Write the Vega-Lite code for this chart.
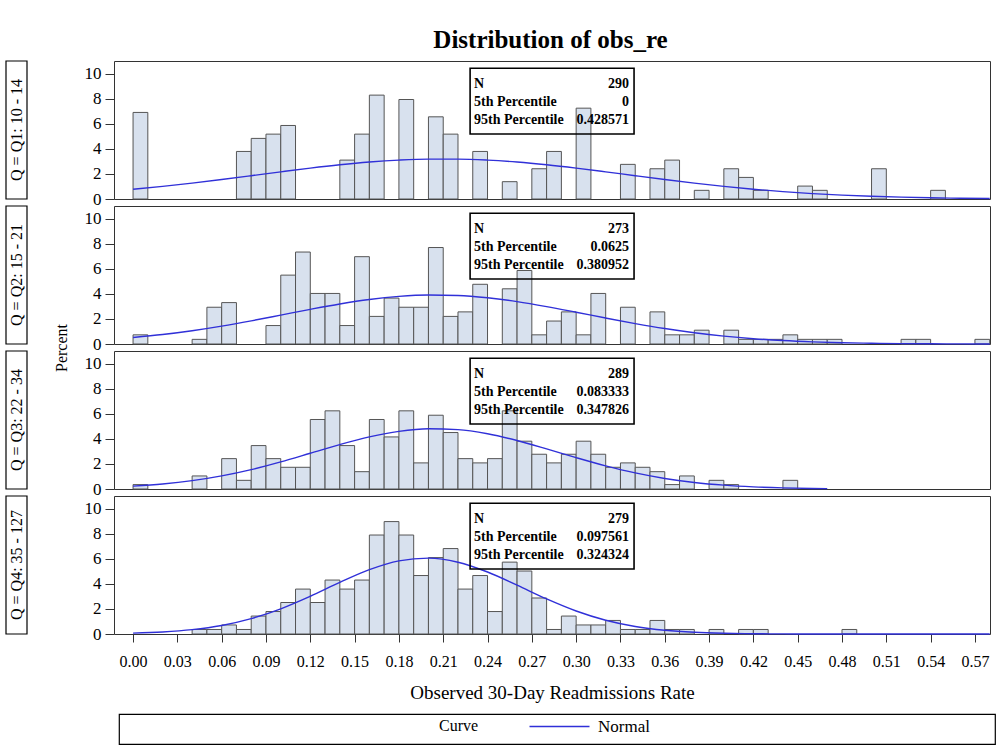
{
  "$schema": "https://vega.github.io/schema/vega-lite/v6.json",
  "padding": {"left": 5, "top": 28, "right": 10, "bottom": 5},
  "background": "white",
  "title": {"text": "Distribution of obs_re", "font": "Liberation Serif", "fontSize": 25, "fontWeight": "bold", "color": "black", "anchor": "middle", "dx": 50, "offset": 7},
  "config": {
    "font": "Liberation Serif",
    "view": {"stroke": "#333", "strokeWidth": 1},
    "axis": {"labelFont": "Liberation Serif", "titleFont": "Liberation Serif", "labelColor": "black", "titleColor": "black", "tickColor": "#333", "domain": false, "grid": false, "titleFontWeight": "normal"}
  },
  "datasets": {
    "bars": [
      {"q":"Q1","lo":0.00,"hi":0.01,"pct":6.90},{"q":"Q1","lo":0.07,"hi":0.08,"pct":3.79},{"q":"Q1","lo":0.08,"hi":0.09,"pct":4.83},{"q":"Q1","lo":0.09,"hi":0.10,"pct":5.17},{"q":"Q1","lo":0.10,"hi":0.11,"pct":5.86},{"q":"Q1","lo":0.14,"hi":0.15,"pct":3.10},{"q":"Q1","lo":0.15,"hi":0.16,"pct":5.17},{"q":"Q1","lo":0.16,"hi":0.17,"pct":8.28},{"q":"Q1","lo":0.18,"hi":0.19,"pct":7.93},{"q":"Q1","lo":0.20,"hi":0.21,"pct":6.55},{"q":"Q1","lo":0.21,"hi":0.22,"pct":5.17},{"q":"Q1","lo":0.23,"hi":0.24,"pct":3.79},{"q":"Q1","lo":0.25,"hi":0.26,"pct":1.38},{"q":"Q1","lo":0.27,"hi":0.28,"pct":2.41},{"q":"Q1","lo":0.28,"hi":0.29,"pct":3.79},{"q":"Q1","lo":0.30,"hi":0.31,"pct":7.24},{"q":"Q1","lo":0.33,"hi":0.34,"pct":2.76},{"q":"Q1","lo":0.35,"hi":0.36,"pct":2.41},{"q":"Q1","lo":0.36,"hi":0.37,"pct":3.10},{"q":"Q1","lo":0.38,"hi":0.39,"pct":0.69},{"q":"Q1","lo":0.40,"hi":0.41,"pct":2.41},{"q":"Q1","lo":0.41,"hi":0.42,"pct":1.72},{"q":"Q1","lo":0.42,"hi":0.43,"pct":0.69},{"q":"Q1","lo":0.45,"hi":0.46,"pct":1.03},{"q":"Q1","lo":0.46,"hi":0.47,"pct":0.69},{"q":"Q1","lo":0.50,"hi":0.51,"pct":2.41},{"q":"Q1","lo":0.54,"hi":0.55,"pct":0.69},
      {"q":"Q2","lo":0.00,"hi":0.01,"pct":0.73},{"q":"Q2","lo":0.04,"hi":0.05,"pct":0.37},{"q":"Q2","lo":0.05,"hi":0.06,"pct":2.93},{"q":"Q2","lo":0.06,"hi":0.07,"pct":3.30},{"q":"Q2","lo":0.09,"hi":0.10,"pct":1.47},{"q":"Q2","lo":0.10,"hi":0.11,"pct":5.49},{"q":"Q2","lo":0.11,"hi":0.12,"pct":7.33},{"q":"Q2","lo":0.12,"hi":0.13,"pct":4.03},{"q":"Q2","lo":0.13,"hi":0.14,"pct":4.03},{"q":"Q2","lo":0.14,"hi":0.15,"pct":1.47},{"q":"Q2","lo":0.15,"hi":0.16,"pct":6.96},{"q":"Q2","lo":0.16,"hi":0.17,"pct":2.20},{"q":"Q2","lo":0.17,"hi":0.18,"pct":3.66},{"q":"Q2","lo":0.18,"hi":0.19,"pct":2.93},{"q":"Q2","lo":0.19,"hi":0.20,"pct":2.93},{"q":"Q2","lo":0.20,"hi":0.21,"pct":7.69},{"q":"Q2","lo":0.21,"hi":0.22,"pct":2.20},{"q":"Q2","lo":0.22,"hi":0.23,"pct":2.56},{"q":"Q2","lo":0.23,"hi":0.24,"pct":4.76},{"q":"Q2","lo":0.25,"hi":0.26,"pct":4.40},{"q":"Q2","lo":0.26,"hi":0.27,"pct":5.86},{"q":"Q2","lo":0.27,"hi":0.28,"pct":0.73},{"q":"Q2","lo":0.28,"hi":0.29,"pct":1.83},{"q":"Q2","lo":0.29,"hi":0.30,"pct":2.56},{"q":"Q2","lo":0.30,"hi":0.31,"pct":0.73},{"q":"Q2","lo":0.31,"hi":0.32,"pct":4.03},{"q":"Q2","lo":0.33,"hi":0.34,"pct":2.93},{"q":"Q2","lo":0.35,"hi":0.36,"pct":2.56},{"q":"Q2","lo":0.36,"hi":0.37,"pct":0.73},{"q":"Q2","lo":0.37,"hi":0.38,"pct":0.73},{"q":"Q2","lo":0.38,"hi":0.39,"pct":1.10},{"q":"Q2","lo":0.40,"hi":0.41,"pct":1.10},{"q":"Q2","lo":0.41,"hi":0.42,"pct":0.37},{"q":"Q2","lo":0.42,"hi":0.43,"pct":0.37},{"q":"Q2","lo":0.43,"hi":0.44,"pct":0.37},{"q":"Q2","lo":0.44,"hi":0.45,"pct":0.73},{"q":"Q2","lo":0.45,"hi":0.46,"pct":0.37},{"q":"Q2","lo":0.46,"hi":0.47,"pct":0.37},{"q":"Q2","lo":0.47,"hi":0.48,"pct":0.37},{"q":"Q2","lo":0.52,"hi":0.53,"pct":0.37},{"q":"Q2","lo":0.53,"hi":0.54,"pct":0.37},{"q":"Q2","lo":0.57,"hi":0.58,"pct":0.37},
      {"q":"Q3","lo":0.00,"hi":0.01,"pct":0.35},{"q":"Q3","lo":0.04,"hi":0.05,"pct":1.04},{"q":"Q3","lo":0.06,"hi":0.07,"pct":2.42},{"q":"Q3","lo":0.07,"hi":0.08,"pct":0.69},{"q":"Q3","lo":0.08,"hi":0.09,"pct":3.46},{"q":"Q3","lo":0.09,"hi":0.10,"pct":2.42},{"q":"Q3","lo":0.10,"hi":0.11,"pct":1.73},{"q":"Q3","lo":0.11,"hi":0.12,"pct":1.73},{"q":"Q3","lo":0.12,"hi":0.13,"pct":5.54},{"q":"Q3","lo":0.13,"hi":0.14,"pct":6.23},{"q":"Q3","lo":0.14,"hi":0.15,"pct":3.46},{"q":"Q3","lo":0.15,"hi":0.16,"pct":1.38},{"q":"Q3","lo":0.16,"hi":0.17,"pct":5.54},{"q":"Q3","lo":0.17,"hi":0.18,"pct":4.15},{"q":"Q3","lo":0.18,"hi":0.19,"pct":6.23},{"q":"Q3","lo":0.19,"hi":0.20,"pct":2.08},{"q":"Q3","lo":0.20,"hi":0.21,"pct":5.88},{"q":"Q3","lo":0.21,"hi":0.22,"pct":4.50},{"q":"Q3","lo":0.22,"hi":0.23,"pct":2.42},{"q":"Q3","lo":0.23,"hi":0.24,"pct":2.08},{"q":"Q3","lo":0.24,"hi":0.25,"pct":2.42},{"q":"Q3","lo":0.25,"hi":0.26,"pct":6.23},{"q":"Q3","lo":0.26,"hi":0.27,"pct":3.81},{"q":"Q3","lo":0.27,"hi":0.28,"pct":2.77},{"q":"Q3","lo":0.28,"hi":0.29,"pct":2.08},{"q":"Q3","lo":0.29,"hi":0.30,"pct":2.77},{"q":"Q3","lo":0.30,"hi":0.31,"pct":3.81},{"q":"Q3","lo":0.31,"hi":0.32,"pct":2.77},{"q":"Q3","lo":0.32,"hi":0.33,"pct":1.73},{"q":"Q3","lo":0.33,"hi":0.34,"pct":2.08},{"q":"Q3","lo":0.34,"hi":0.35,"pct":1.73},{"q":"Q3","lo":0.35,"hi":0.36,"pct":1.38},{"q":"Q3","lo":0.36,"hi":0.37,"pct":0.35},{"q":"Q3","lo":0.37,"hi":0.38,"pct":1.04},{"q":"Q3","lo":0.39,"hi":0.40,"pct":0.69},{"q":"Q3","lo":0.40,"hi":0.41,"pct":0.35},{"q":"Q3","lo":0.44,"hi":0.45,"pct":0.69},
      {"q":"Q4","lo":0.04,"hi":0.05,"pct":0.36},{"q":"Q4","lo":0.05,"hi":0.06,"pct":0.36},{"q":"Q4","lo":0.06,"hi":0.07,"pct":0.72},{"q":"Q4","lo":0.07,"hi":0.08,"pct":0.36},{"q":"Q4","lo":0.08,"hi":0.09,"pct":1.43},{"q":"Q4","lo":0.09,"hi":0.10,"pct":1.79},{"q":"Q4","lo":0.10,"hi":0.11,"pct":2.51},{"q":"Q4","lo":0.11,"hi":0.12,"pct":3.58},{"q":"Q4","lo":0.12,"hi":0.13,"pct":2.51},{"q":"Q4","lo":0.13,"hi":0.14,"pct":4.30},{"q":"Q4","lo":0.14,"hi":0.15,"pct":3.58},{"q":"Q4","lo":0.15,"hi":0.16,"pct":4.30},{"q":"Q4","lo":0.16,"hi":0.17,"pct":7.89},{"q":"Q4","lo":0.17,"hi":0.18,"pct":8.96},{"q":"Q4","lo":0.18,"hi":0.19,"pct":7.89},{"q":"Q4","lo":0.19,"hi":0.20,"pct":4.66},{"q":"Q4","lo":0.20,"hi":0.21,"pct":6.09},{"q":"Q4","lo":0.21,"hi":0.22,"pct":6.81},{"q":"Q4","lo":0.22,"hi":0.23,"pct":3.58},{"q":"Q4","lo":0.23,"hi":0.24,"pct":4.66},{"q":"Q4","lo":0.24,"hi":0.25,"pct":1.79},{"q":"Q4","lo":0.25,"hi":0.26,"pct":5.73},{"q":"Q4","lo":0.26,"hi":0.27,"pct":5.02},{"q":"Q4","lo":0.27,"hi":0.28,"pct":2.87},{"q":"Q4","lo":0.28,"hi":0.29,"pct":0.36},{"q":"Q4","lo":0.29,"hi":0.30,"pct":1.43},{"q":"Q4","lo":0.30,"hi":0.31,"pct":0.72},{"q":"Q4","lo":0.31,"hi":0.32,"pct":0.72},{"q":"Q4","lo":0.32,"hi":0.33,"pct":1.08},{"q":"Q4","lo":0.33,"hi":0.34,"pct":0.36},{"q":"Q4","lo":0.34,"hi":0.35,"pct":0.36},{"q":"Q4","lo":0.35,"hi":0.36,"pct":1.08},{"q":"Q4","lo":0.36,"hi":0.37,"pct":0.36},{"q":"Q4","lo":0.37,"hi":0.38,"pct":0.36},{"q":"Q4","lo":0.39,"hi":0.40,"pct":0.36},{"q":"Q4","lo":0.41,"hi":0.42,"pct":0.36},{"q":"Q4","lo":0.42,"hi":0.43,"pct":0.36},{"q":"Q4","lo":0.48,"hi":0.49,"pct":0.36}
    ],
    "curve": [
      {"q":"Q1","x":0.00,"pct":0.780},{"q":"Q1","x":0.02,"pct":1.005},{"q":"Q1","x":0.04,"pct":1.266},{"q":"Q1","x":0.06,"pct":1.553},{"q":"Q1","x":0.08,"pct":1.857},{"q":"Q1","x":0.10,"pct":2.166},{"q":"Q1","x":0.12,"pct":2.462},{"q":"Q1","x":0.14,"pct":2.727},{"q":"Q1","x":0.16,"pct":2.945},{"q":"Q1","x":0.18,"pct":3.100},{"q":"Q1","x":0.20,"pct":3.180},{"q":"Q1","x":0.22,"pct":3.180},{"q":"Q1","x":0.24,"pct":3.100},{"q":"Q1","x":0.26,"pct":2.945},{"q":"Q1","x":0.28,"pct":2.727},{"q":"Q1","x":0.30,"pct":2.462},{"q":"Q1","x":0.32,"pct":2.166},{"q":"Q1","x":0.34,"pct":1.857},{"q":"Q1","x":0.36,"pct":1.553},{"q":"Q1","x":0.38,"pct":1.266},{"q":"Q1","x":0.40,"pct":1.005},{"q":"Q1","x":0.42,"pct":0.780},{"q":"Q1","x":0.44,"pct":0.587},{"q":"Q1","x":0.46,"pct":0.432},{"q":"Q1","x":0.48,"pct":0.309},{"q":"Q1","x":0.50,"pct":0.216},{"q":"Q1","x":0.52,"pct":0.147},{"q":"Q1","x":0.54,"pct":0.098},{"q":"Q1","x":0.56,"pct":0.063},{"q":"Q1","x":0.58,"pct":0.040},
      {"q":"Q2","x":0.00,"pct":0.519},{"q":"Q2","x":0.02,"pct":0.755},{"q":"Q2","x":0.04,"pct":1.057},{"q":"Q2","x":0.06,"pct":1.424},{"q":"Q2","x":0.08,"pct":1.845},{"q":"Q2","x":0.10,"pct":2.302},{"q":"Q2","x":0.12,"pct":2.763},{"q":"Q2","x":0.14,"pct":3.192},{"q":"Q2","x":0.16,"pct":3.548},{"q":"Q2","x":0.18,"pct":3.794},{"q":"Q2","x":0.20,"pct":3.905},{"q":"Q2","x":0.22,"pct":3.868},{"q":"Q2","x":0.24,"pct":3.686},{"q":"Q2","x":0.26,"pct":3.381},{"q":"Q2","x":0.28,"pct":2.984},{"q":"Q2","x":0.30,"pct":2.534},{"q":"Q2","x":0.32,"pct":2.071},{"q":"Q2","x":0.34,"pct":1.629},{"q":"Q2","x":0.36,"pct":1.232},{"q":"Q2","x":0.38,"pct":0.897},{"q":"Q2","x":0.40,"pct":0.629},{"q":"Q2","x":0.42,"pct":0.424},{"q":"Q2","x":0.44,"pct":0.275},{"q":"Q2","x":0.46,"pct":0.172},{"q":"Q2","x":0.48,"pct":0.103},{"q":"Q2","x":0.50,"pct":0.060},{"q":"Q2","x":0.52,"pct":0.033},{"q":"Q2","x":0.54,"pct":0.018},{"q":"Q2","x":0.56,"pct":0.009},{"q":"Q2","x":0.58,"pct":0.005},
      {"q":"Q3","x":0.00,"pct":0.228},{"q":"Q3","x":0.02,"pct":0.401},{"q":"Q3","x":0.04,"pct":0.667},{"q":"Q3","x":0.06,"pct":1.046},{"q":"Q3","x":0.08,"pct":1.547},{"q":"Q3","x":0.10,"pct":2.161},{"q":"Q3","x":0.12,"pct":2.847},{"q":"Q3","x":0.14,"pct":3.540},{"q":"Q3","x":0.16,"pct":4.152},{"q":"Q3","x":0.18,"pct":4.597},{"q":"Q3","x":0.20,"pct":4.801},{"q":"Q3","x":0.22,"pct":4.732},{"q":"Q3","x":0.24,"pct":4.401},{"q":"Q3","x":0.26,"pct":3.863},{"q":"Q3","x":0.28,"pct":3.198},{"q":"Q3","x":0.30,"pct":2.498},{"q":"Q3","x":0.32,"pct":1.842},{"q":"Q3","x":0.34,"pct":1.281},{"q":"Q3","x":0.36,"pct":0.841},{"q":"Q3","x":0.38,"pct":0.521},{"q":"Q3","x":0.40,"pct":0.305},{"q":"Q3","x":0.42,"pct":0.168},{"q":"Q3","x":0.44,"pct":0.087},{"q":"Q3","x":0.46,"pct":0.043},{"q":"Q3","x":0.47,"pct":0.029},
      {"q":"Q4","x":0.00,"pct":0.067},{"q":"Q4","x":0.02,"pct":0.159},{"q":"Q4","x":0.04,"pct":0.345},{"q":"Q4","x":0.06,"pct":0.680},{"q":"Q4","x":0.08,"pct":1.224},{"q":"Q4","x":0.10,"pct":2.009},{"q":"Q4","x":0.12,"pct":3.009},{"q":"Q4","x":0.14,"pct":4.112},{"q":"Q4","x":0.16,"pct":5.126},{"q":"Q4","x":0.18,"pct":5.829},{"q":"Q4","x":0.20,"pct":6.047},{"q":"Q4","x":0.22,"pct":5.723},{"q":"Q4","x":0.24,"pct":4.941},{"q":"Q4","x":0.26,"pct":3.893},{"q":"Q4","x":0.28,"pct":2.796},{"q":"Q4","x":0.30,"pct":1.833},{"q":"Q4","x":0.32,"pct":1.096},{"q":"Q4","x":0.34,"pct":0.598},{"q":"Q4","x":0.36,"pct":0.298},{"q":"Q4","x":0.38,"pct":0.135},{"q":"Q4","x":0.40,"pct":0.056},{"q":"Q4","x":0.42,"pct":0.021},{"q":"Q4","x":0.44,"pct":0.007},{"q":"Q4","x":0.46,"pct":0.002},{"q":"Q4","x":0.50,"pct":0.000},{"q":"Q4","x":0.58,"pct":0.000}
    ],
    "stats": [
      {"q":"Q1","stat":"N","value":"290"},{"q":"Q1","stat":"5th Percentile","value":"0"},{"q":"Q1","stat":"95th Percentile","value":"0.428571"},
      {"q":"Q2","stat":"N","value":"273"},{"q":"Q2","stat":"5th Percentile","value":"0.0625"},{"q":"Q2","stat":"95th Percentile","value":"0.380952"},
      {"q":"Q3","stat":"N","value":"289"},{"q":"Q3","stat":"5th Percentile","value":"0.083333"},{"q":"Q3","stat":"95th Percentile","value":"0.347826"},
      {"q":"Q4","stat":"N","value":"279"},{"q":"Q4","stat":"5th Percentile","value":"0.097561"},{"q":"Q4","stat":"95th Percentile","value":"0.324324"}
    ],
    "groups": [
      {"q":"Q1","label":"Q = Q1: 10 -  14"},{"q":"Q2","label":"Q = Q2: 15 -  21"},{"q":"Q3","label":"Q = Q3: 22 -  34"},{"q":"Q4","label":"Q = Q4: 35 - 127"}
    ]
  },
  "resolve": {"scale": {"y": "independent", "x": "independent", "color": "shared"}, "legend": {"color": "shared"}},
  "spacing": 10,
  "vconcat": [
    {
      "resolve": {"scale": {"y": "independent", "x": "independent", "color": "shared"}, "legend": {"color": "shared"}},
      "spacing": 14,
      "hconcat": [
        {
          "width": 21, "height": 573,
          "data": {"name": "groups"},
          "view": {"stroke": null},
          "layer": [
            {"mark": {"type": "rect", "fill": "white", "stroke": "black", "strokeWidth": 1.2},
             "encoding": {"y": {"field": "q", "type": "nominal", "scale": {"type": "band", "domain": ["Q1","Q2","Q3","Q4"], "paddingInner": 0.0483, "paddingOuter": 0},
               "axis": {"orient": "right", "title": "Percent", "labels": false, "ticks": false, "domain": false, "titleAngle": 270, "titleBaseline": "top", "titlePadding": 26, "titleFontSize": 16, "titleFontWeight": "normal"}}}},
            {"mark": {"type": "text", "angle": 270, "font": "Liberation Serif", "fontSize": 16, "color": "black", "align": "center", "baseline": "middle"},
             "encoding": {"y": {"field": "q", "type": "nominal"}, "text": {"field": "label"}}}
          ]
        },
        {
          "spacing": 7,
          "bounds": "flush",
          "resolve": {"scale": {"y": "independent", "color": "shared"}, "legend": {"color": "shared"}},
          "vconcat": [
            {"width": 876, "height": 138, "resolve": {"scale": {"y": "independent"}},
             "layer": [
              {"data": {"name": "bars"}, "transform": [{"filter": "datum.q === 'Q1'"}],
               "mark": {"type": "rect", "fill": "#d8e1ee", "stroke": "#555", "strokeWidth": 1},
               "encoding": {"x": {"field": "lo", "type": "quantitative", "scale": {"domain": [-0.0129, 0.5802], "nice": false, "zero": false}, "axis": null}, "x2": {"field": "hi"},
                 "y": {"field": "pct", "type": "quantitative", "scale": {"domain": [0, 11], "nice": false}, "axis": {"values": [0,2,4,6,8,10], "title": null, "tickSize": 9, "labelPadding": 4, "labelFontSize": 17}}, "y2": {"datum": 0}}},
              {"data": {"name": "curve"}, "transform": [{"filter": "datum.q === 'Q1'"}],
               "mark": {"type": "line", "interpolate": "monotone", "strokeWidth": 1.4},
               "encoding": {"x": {"field": "x", "type": "quantitative"}, "y": {"field": "pct", "type": "quantitative", "scale": {"domain": [0, 11], "nice": false}, "axis": null},
                 "color": {"datum": "Normal", "type": "nominal", "scale": {"range": ["#3030d8"]}, "legend": {"title": "Curve", "orient": "none", "legendX": 433, "legendY": 657, "direction": "horizontal", "titleOrient": "left", "titleFont": "Liberation Serif", "titleFontSize": 16, "titleFontWeight": "normal", "titlePadding": 72, "titleColor": "black", "labelFont": "Liberation Serif", "labelFontSize": 17, "labelColor": "black", "labelOffset": 30, "symbolType": "M-4,0L4,0", "symbolSize": 225, "symbolStrokeWidth": 1.6}}}},
              {"data": {"name": "stats"}, "transform": [{"filter": "datum.q === 'Q1' && datum.stat === 'N'"}],
               "mark": {"type": "rect", "fill": "white", "fillOpacity": 0, "stroke": "black", "strokeWidth": 1.6},
               "encoding": {"x": {"datum": 0.2282}, "x2": {"datum": 0.3392}, "y": {"datum": 10.42, "scale": {"domain": [0, 11], "nice": false}, "axis": null}, "y2": {"datum": 5.18}}},
              {"data": {"name": "stats"}, "transform": [{"filter": "datum.q === 'Q1'"}],
               "mark": {"type": "text", "align": "left", "baseline": "middle", "font": "Liberation Serif", "fontSize": 14, "fontWeight": "bold", "color": "black"},
               "encoding": {"x": {"datum": 0.2309}, "y": {"field": "stat", "type": "ordinal", "scale": {"type": "point", "domain": ["N","5th Percentile","95th Percentile"], "range": [23, 59], "padding": 0}, "axis": null}, "text": {"field": "stat"}}},
              {"data": {"name": "stats"}, "transform": [{"filter": "datum.q === 'Q1'"}],
               "mark": {"type": "text", "align": "right", "baseline": "middle", "font": "Liberation Serif", "fontSize": 14, "fontWeight": "bold", "color": "black"},
               "encoding": {"x": {"datum": 0.3358}, "y": {"field": "stat", "type": "ordinal", "scale": {"type": "point", "domain": ["N","5th Percentile","95th Percentile"], "range": [23, 59], "padding": 0}, "axis": null}, "text": {"field": "value"}}}
             ]},
            {"width": 876, "height": 138, "resolve": {"scale": {"y": "independent"}},
             "layer": [
              {"data": {"name": "bars"}, "transform": [{"filter": "datum.q === 'Q2'"}],
               "mark": {"type": "rect", "fill": "#d8e1ee", "stroke": "#555", "strokeWidth": 1},
               "encoding": {"x": {"field": "lo", "type": "quantitative", "scale": {"domain": [-0.0129, 0.5802], "nice": false, "zero": false}, "axis": null}, "x2": {"field": "hi"},
                 "y": {"field": "pct", "type": "quantitative", "scale": {"domain": [0, 11], "nice": false}, "axis": {"values": [0,2,4,6,8,10], "title": null, "tickSize": 9, "labelPadding": 4, "labelFontSize": 17}}, "y2": {"datum": 0}}},
              {"data": {"name": "curve"}, "transform": [{"filter": "datum.q === 'Q2'"}],
               "mark": {"type": "line", "interpolate": "monotone", "strokeWidth": 1.4},
               "encoding": {"x": {"field": "x", "type": "quantitative"}, "y": {"field": "pct", "type": "quantitative", "scale": {"domain": [0, 11], "nice": false}, "axis": null},
                 "color": {"datum": "Normal", "type": "nominal", "scale": {"range": ["#3030d8"]}, "legend": {"title": "Curve", "orient": "none", "legendX": 433, "legendY": 657, "direction": "horizontal", "titleOrient": "left", "titleFont": "Liberation Serif", "titleFontSize": 16, "titleFontWeight": "normal", "titlePadding": 72, "titleColor": "black", "labelFont": "Liberation Serif", "labelFontSize": 17, "labelColor": "black", "labelOffset": 30, "symbolType": "M-4,0L4,0", "symbolSize": 225, "symbolStrokeWidth": 1.6}}}},
              {"data": {"name": "stats"}, "transform": [{"filter": "datum.q === 'Q2' && datum.stat === 'N'"}],
               "mark": {"type": "rect", "fill": "white", "fillOpacity": 0, "stroke": "black", "strokeWidth": 1.6},
               "encoding": {"x": {"datum": 0.2282}, "x2": {"datum": 0.3392}, "y": {"datum": 10.42, "scale": {"domain": [0, 11], "nice": false}, "axis": null}, "y2": {"datum": 5.18}}},
              {"data": {"name": "stats"}, "transform": [{"filter": "datum.q === 'Q2'"}],
               "mark": {"type": "text", "align": "left", "baseline": "middle", "font": "Liberation Serif", "fontSize": 14, "fontWeight": "bold", "color": "black"},
               "encoding": {"x": {"datum": 0.2309}, "y": {"field": "stat", "type": "ordinal", "scale": {"type": "point", "domain": ["N","5th Percentile","95th Percentile"], "range": [23, 59], "padding": 0}, "axis": null}, "text": {"field": "stat"}}},
              {"data": {"name": "stats"}, "transform": [{"filter": "datum.q === 'Q2'"}],
               "mark": {"type": "text", "align": "right", "baseline": "middle", "font": "Liberation Serif", "fontSize": 14, "fontWeight": "bold", "color": "black"},
               "encoding": {"x": {"datum": 0.3358}, "y": {"field": "stat", "type": "ordinal", "scale": {"type": "point", "domain": ["N","5th Percentile","95th Percentile"], "range": [23, 59], "padding": 0}, "axis": null}, "text": {"field": "value"}}}
             ]},
            {"width": 876, "height": 138, "resolve": {"scale": {"y": "independent"}},
             "layer": [
              {"data": {"name": "bars"}, "transform": [{"filter": "datum.q === 'Q3'"}],
               "mark": {"type": "rect", "fill": "#d8e1ee", "stroke": "#555", "strokeWidth": 1},
               "encoding": {"x": {"field": "lo", "type": "quantitative", "scale": {"domain": [-0.0129, 0.5802], "nice": false, "zero": false}, "axis": null}, "x2": {"field": "hi"},
                 "y": {"field": "pct", "type": "quantitative", "scale": {"domain": [0, 11], "nice": false}, "axis": {"values": [0,2,4,6,8,10], "title": null, "tickSize": 9, "labelPadding": 4, "labelFontSize": 17}}, "y2": {"datum": 0}}},
              {"data": {"name": "curve"}, "transform": [{"filter": "datum.q === 'Q3'"}],
               "mark": {"type": "line", "interpolate": "monotone", "strokeWidth": 1.4},
               "encoding": {"x": {"field": "x", "type": "quantitative"}, "y": {"field": "pct", "type": "quantitative", "scale": {"domain": [0, 11], "nice": false}, "axis": null},
                 "color": {"datum": "Normal", "type": "nominal", "scale": {"range": ["#3030d8"]}, "legend": {"title": "Curve", "orient": "none", "legendX": 433, "legendY": 657, "direction": "horizontal", "titleOrient": "left", "titleFont": "Liberation Serif", "titleFontSize": 16, "titleFontWeight": "normal", "titlePadding": 72, "titleColor": "black", "labelFont": "Liberation Serif", "labelFontSize": 17, "labelColor": "black", "labelOffset": 30, "symbolType": "M-4,0L4,0", "symbolSize": 225, "symbolStrokeWidth": 1.6}}}},
              {"data": {"name": "stats"}, "transform": [{"filter": "datum.q === 'Q3' && datum.stat === 'N'"}],
               "mark": {"type": "rect", "fill": "white", "fillOpacity": 0, "stroke": "black", "strokeWidth": 1.6},
               "encoding": {"x": {"datum": 0.2282}, "x2": {"datum": 0.3392}, "y": {"datum": 10.42, "scale": {"domain": [0, 11], "nice": false}, "axis": null}, "y2": {"datum": 5.18}}},
              {"data": {"name": "stats"}, "transform": [{"filter": "datum.q === 'Q3'"}],
               "mark": {"type": "text", "align": "left", "baseline": "middle", "font": "Liberation Serif", "fontSize": 14, "fontWeight": "bold", "color": "black"},
               "encoding": {"x": {"datum": 0.2309}, "y": {"field": "stat", "type": "ordinal", "scale": {"type": "point", "domain": ["N","5th Percentile","95th Percentile"], "range": [23, 59], "padding": 0}, "axis": null}, "text": {"field": "stat"}}},
              {"data": {"name": "stats"}, "transform": [{"filter": "datum.q === 'Q3'"}],
               "mark": {"type": "text", "align": "right", "baseline": "middle", "font": "Liberation Serif", "fontSize": 14, "fontWeight": "bold", "color": "black"},
               "encoding": {"x": {"datum": 0.3358}, "y": {"field": "stat", "type": "ordinal", "scale": {"type": "point", "domain": ["N","5th Percentile","95th Percentile"], "range": [23, 59], "padding": 0}, "axis": null}, "text": {"field": "value"}}}
             ]},
            {"width": 876, "height": 138, "resolve": {"scale": {"y": "independent"}},
             "layer": [
              {"data": {"name": "bars"}, "transform": [{"filter": "datum.q === 'Q4'"}],
               "mark": {"type": "rect", "fill": "#d8e1ee", "stroke": "#555", "strokeWidth": 1},
               "encoding": {"x": {"field": "lo", "type": "quantitative", "scale": {"domain": [-0.0129, 0.5802], "nice": false, "zero": false},
                   "axis": {"values": [0,0.03,0.06,0.09,0.12,0.15,0.18,0.21,0.24,0.27,0.30,0.33,0.36,0.39,0.42,0.45,0.48,0.51,0.54,0.57], "format": ".2f", "title": "Observed 30-Day Readmissions Rate", "tickSize": 8, "labelPadding": 11, "labelFontSize": 16, "titleFontSize": 19, "titlePadding": 14}}, "x2": {"field": "hi"},
                 "y": {"field": "pct", "type": "quantitative", "scale": {"domain": [0, 11], "nice": false}, "axis": {"values": [0,2,4,6,8,10], "title": null, "tickSize": 9, "labelPadding": 4, "labelFontSize": 17}}, "y2": {"datum": 0}}},
              {"data": {"name": "curve"}, "transform": [{"filter": "datum.q === 'Q4'"}],
               "mark": {"type": "line", "interpolate": "monotone", "strokeWidth": 1.4},
               "encoding": {"x": {"field": "x", "type": "quantitative"}, "y": {"field": "pct", "type": "quantitative", "scale": {"domain": [0, 11], "nice": false}, "axis": null},
                 "color": {"datum": "Normal", "type": "nominal", "scale": {"range": ["#3030d8"]}, "legend": {"title": "Curve", "orient": "none", "legendX": 433, "legendY": 657, "direction": "horizontal", "titleOrient": "left", "titleFont": "Liberation Serif", "titleFontSize": 16, "titleFontWeight": "normal", "titlePadding": 72, "titleColor": "black", "labelFont": "Liberation Serif", "labelFontSize": 17, "labelColor": "black", "labelOffset": 30, "symbolType": "M-4,0L4,0", "symbolSize": 225, "symbolStrokeWidth": 1.6}}}},
              {"data": {"name": "stats"}, "transform": [{"filter": "datum.q === 'Q4' && datum.stat === 'N'"}],
               "mark": {"type": "rect", "fill": "white", "fillOpacity": 0, "stroke": "black", "strokeWidth": 1.6},
               "encoding": {"x": {"datum": 0.2282}, "x2": {"datum": 0.3392}, "y": {"datum": 10.42, "scale": {"domain": [0, 11], "nice": false}, "axis": null}, "y2": {"datum": 5.18}}},
              {"data": {"name": "stats"}, "transform": [{"filter": "datum.q === 'Q4'"}],
               "mark": {"type": "text", "align": "left", "baseline": "middle", "font": "Liberation Serif", "fontSize": 14, "fontWeight": "bold", "color": "black"},
               "encoding": {"x": {"datum": 0.2309}, "y": {"field": "stat", "type": "ordinal", "scale": {"type": "point", "domain": ["N","5th Percentile","95th Percentile"], "range": [23, 59], "padding": 0}, "axis": null}, "text": {"field": "stat"}}},
              {"data": {"name": "stats"}, "transform": [{"filter": "datum.q === 'Q4'"}],
               "mark": {"type": "text", "align": "right", "baseline": "middle", "font": "Liberation Serif", "fontSize": 14, "fontWeight": "bold", "color": "black"},
               "encoding": {"x": {"datum": 0.3358}, "y": {"field": "stat", "type": "ordinal", "scale": {"type": "point", "domain": ["N","5th Percentile","95th Percentile"], "range": [23, 59], "padding": 0}, "axis": null}, "text": {"field": "value"}}}
             ]}
          ]
        }
      ]
    },
    {
      "spacing": 0,
      "hconcat": [
        {"width": 112, "height": 30, "data": {"values": []}, "mark": "rect", "encoding": {}, "view": {"stroke": null}},
        {"width": 876, "height": 30, "data": {"values": []}, "mark": "rect", "encoding": {}, "view": {"stroke": "black", "strokeWidth": 1.2}}
      ]
    }
  ]
}
